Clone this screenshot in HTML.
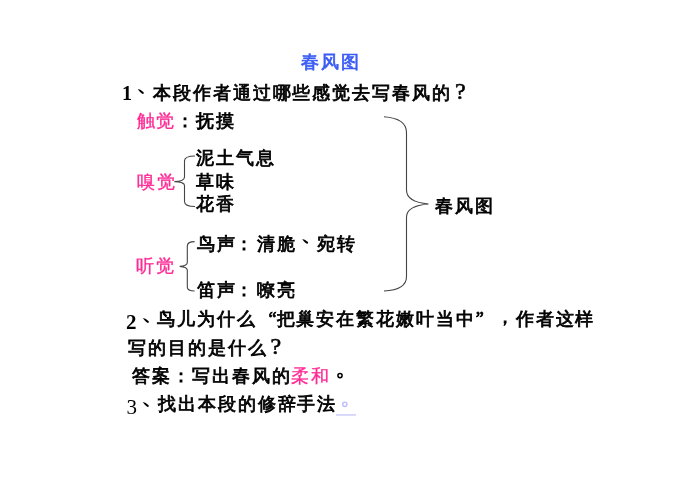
<!DOCTYPE html>
<html><head><meta charset="utf-8">
<style>
html,body{margin:0;padding:0;background:#fff;}
body{width:698px;height:493px;position:relative;overflow:hidden;font-family:"Liberation Serif",serif;}
#w{position:absolute;left:0;top:0;width:698px;height:493px;transform:translateZ(0);}
.t{position:absolute;white-space:nowrap;font-size:18px;line-height:20px;letter-spacing:1.93px;font-weight:normal;color:#000;-webkit-text-stroke:0.8px #000;}
.p{color:#ff2a95;-webkit-text-stroke:0.35px #ff2a95;}
.b{color:#3a5cf5;-webkit-text-stroke:0.7px #3a5cf5;}
.d{position:absolute;font-family:"Liberation Serif",serif;font-weight:bold;font-size:20px;line-height:20px;color:#000;}
.dn{display:inline-block;width:19.93px;height:1px;}
.qm{display:inline-block;width:19.93px;letter-spacing:0;font-family:"Liberation Serif",serif;font-weight:normal;font-size:24px;line-height:20px;-webkit-text-stroke:0.6px #000;position:relative;}
.q{display:inline-block;width:19.93px;letter-spacing:0;}
svg{position:absolute;left:0;top:0;}
</style></head><body><div id="w">
<div class="t b" style="left:301px;top:52px;">春风图</div>

<div class="d" style="left:122px;top:83px;">1</div>
<div class="t" style="left:133px;top:81px;"><span class="dn"></span>本段作者通过哪些感觉去写春风的<span class="qm" style="left:3px;top:0px">?</span></div>

<div class="t" style="left:136.5px;top:111.3px;"><span class="p">触觉</span>：抚摸</div>
<div class="t" style="left:196px;top:148px;">泥土气息</div>
<div class="t p" style="left:137px;top:172px;">嗅觉</div>
<div class="t" style="left:196px;top:172px;">草味</div>
<div class="t" style="left:196px;top:194px;">花香</div>
<div class="t" style="left:197px;top:234px;">鸟声<span style="position:relative;left:-1.5px">：</span>清脆<span class="dn"></span>宛转</div>
<div class="t p" style="left:136px;top:256px;">听觉</div>
<div class="t" style="left:197px;top:280px;">笛声<span style="position:relative;left:-1.5px">：</span>嘹亮</div>
<div class="t" style="left:435px;top:196px;">春风图</div>

<div class="d" style="left:126px;top:311.5px;font-size:21px">2</div>
<div class="t" style="left:137px;top:309px;"><span class="dn"></span>鸟儿为什么<span class="q" style="text-align:right">“</span>把巢安在繁花嫩叶当中<span class="q" style="text-align:left">”</span><span style="position:relative;top:-2.5px;left:0.5px">，</span>作者这样</div>
<div class="t" style="left:128px;top:336px;">写的目的是什么<span class="qm" style="left:3px;top:0px">?</span></div>
<div class="t" style="left:132px;top:366px;">答案：写出春风的<span class="p">柔和</span></div>

<div class="d" style="left:126.5px;top:396.5px;font-size:21px;font-weight:normal">3</div>
<div class="t" style="left:138px;top:393.5px;"><span class="dn"></span>找出本段的修辞手法</div>

<svg width="698" height="493" viewBox="0 0 698 493" fill="none">
<g stroke="#444" stroke-width="1.1">
<path d="M384 116.8 Q406.5 118.5 406.5 132.5 L406.5 190 Q406.5 202 428.5 204 Q406.5 206 406.5 217 L406.5 276.5 Q406.5 290 384 291"/>
<path d="M195 156 Q184.5 156 184.5 161 L184.5 177 Q184.5 181.3 174.4 181.6 Q184.5 181.9 184.5 185.5 L184.5 201.5 Q184.5 206.5 195 206.5"/>
<path d="M194.6 241.6 Q187.3 241.6 187.3 246 L187.3 262.5 Q187.3 266 179.7 266.4 Q187.3 267 187.3 270.3 L187.3 287 Q187.3 291 194.6 291"/>
</g>
<g fill="#000"><path transform="translate(137.8,88.7)" d="M0,0.6 C1.6,0.2 3.6,1.6 5.5,3.2 C6.3,3.9 6,5.3 4.9,5.2 C3.6,5 1.6,2.6 0,0.6 Z"/><path transform="translate(142.9,317.7)" d="M0,0.6 C1.6,0.2 3.6,1.6 5.5,3.2 C6.3,3.9 6,5.3 4.9,5.2 C3.6,5 1.6,2.6 0,0.6 Z"/><path transform="translate(142.8,401.7)" d="M0,0.6 C1.6,0.2 3.6,1.6 5.5,3.2 C6.3,3.9 6,5.3 4.9,5.2 C3.6,5 1.6,2.6 0,0.6 Z"/><path transform="translate(302.2,238.6)" d="M0,0.6 C1.6,0.2 3.6,1.6 5.5,3.2 C6.3,3.9 6,5.3 4.9,5.2 C3.6,5 1.6,2.6 0,0.6 Z"/></g>
<circle cx="340" cy="375.6" r="2.1" stroke="#000" stroke-width="1.5"/>
<circle cx="344.8" cy="404.3" r="2.1" stroke="#c0c0fa" stroke-width="1.5"/>
<rect x="336" y="414" width="20" height="1.8" fill="#d5d5fa"/>
</svg>
</div></body></html>
